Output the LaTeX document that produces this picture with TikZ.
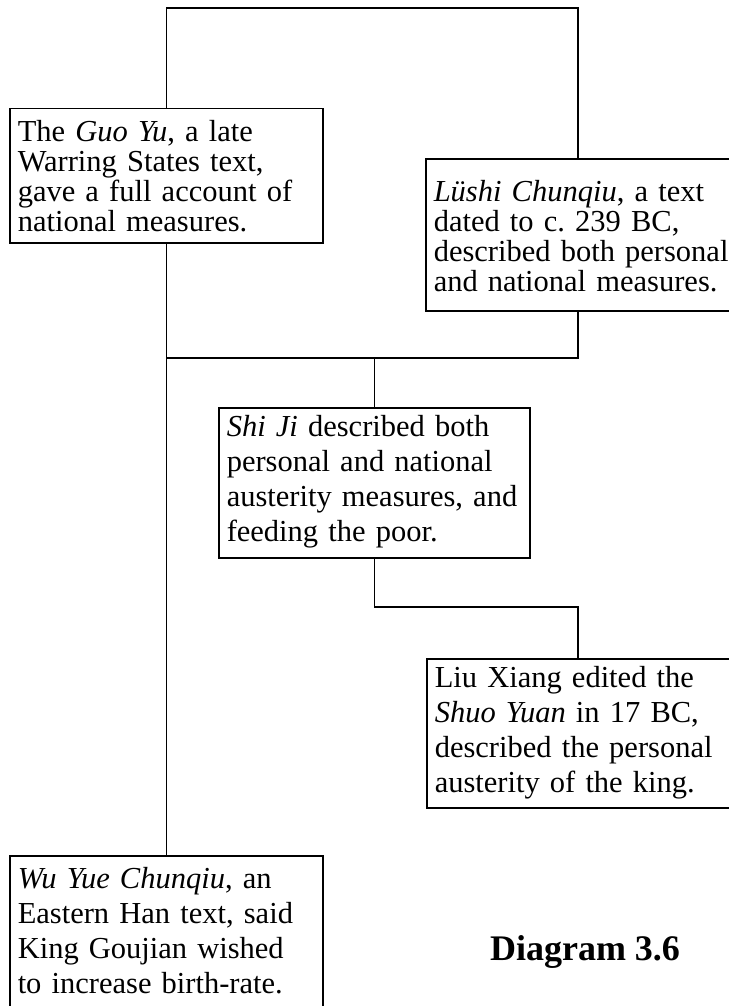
\documentclass[tikz,border=0pt]{standalone}
\usepackage{fontspec}
\setmainfont{Liberation Serif}
\begin{document}
\begin{tikzpicture}[x=1pt,y=-1pt,
  textbox/.style={draw, line width=1.5pt, anchor=north west, align=left,
    inner xsep=8pt, inner ysep=0pt,
    font=\fontsize{30.5}{35}\selectfont},
  tightbox/.style={textbox, font=\fontsize{30.5}{30}\selectfont},
  link/.style={line width=1.5pt},
  caption/.style={anchor=base, font=\bfseries\fontsize{36}{40}\selectfont}]
\useasboundingbox (0,0) rectangle (728,1006);

% source boxes
\node[tightbox, text width=297pt, text height=33pt, text depth=101pt] (guo) at (9,108)
  {The \textit{Guo Yu}, a late\\Warring States text,\\gave a full account of\\national measures.};
\node[tightbox, text width=304pt, text height=43pt, text depth=109pt] (lushi) at (425,158)
  {\textit{Lüshi Chunqiu}, a text\\dated to c.\ 239 BC,\\described both personal\\and national measures.};
\node[textbox, text width=295pt, text height=29pt, text depth=121pt] (shiji) at (218,407)
  {\textit{Shi Ji} described both\\personal and national\\austerity measures, and\\feeding the poor.};
\node[textbox, text width=304pt, text height=29pt, text depth=120pt] (liu) at (426,658)
  {Liu Xiang edited the\\\textit{Shuo Yuan} in 17 BC,\\described the personal\\austerity of the king.};
\node[textbox, text width=297pt, text height=33pt, text depth=160pt] (wu) at (9,855)
  {\textit{Wu Yue Chunqiu}, an\\Eastern Han text, said\\King Goujian wished\\to increase birth-rate.};

\node[caption] (cap) at (585,960) {Diagram 3.6};

% connector levels and the right-hand branch line
\coordinate (topy) at (0,8);
\coordinate (midy) at (0,358);
\coordinate (lowy) at (0,607);
\coordinate (rx) at (578,0);

\draw[link] (guo.north) -- (guo.north |- topy) -| (rx |- lushi.north);
\draw[link] (rx |- lushi.south) |- (guo.south |- midy);
\draw[link] (guo.south) -- (wu.north);
\draw[link] (shiji.north |- midy) -- (shiji.north);
\draw[link] (shiji.south) -- (shiji.south |- lowy) -| (rx |- liu.north);
\end{tikzpicture}
\end{document}
